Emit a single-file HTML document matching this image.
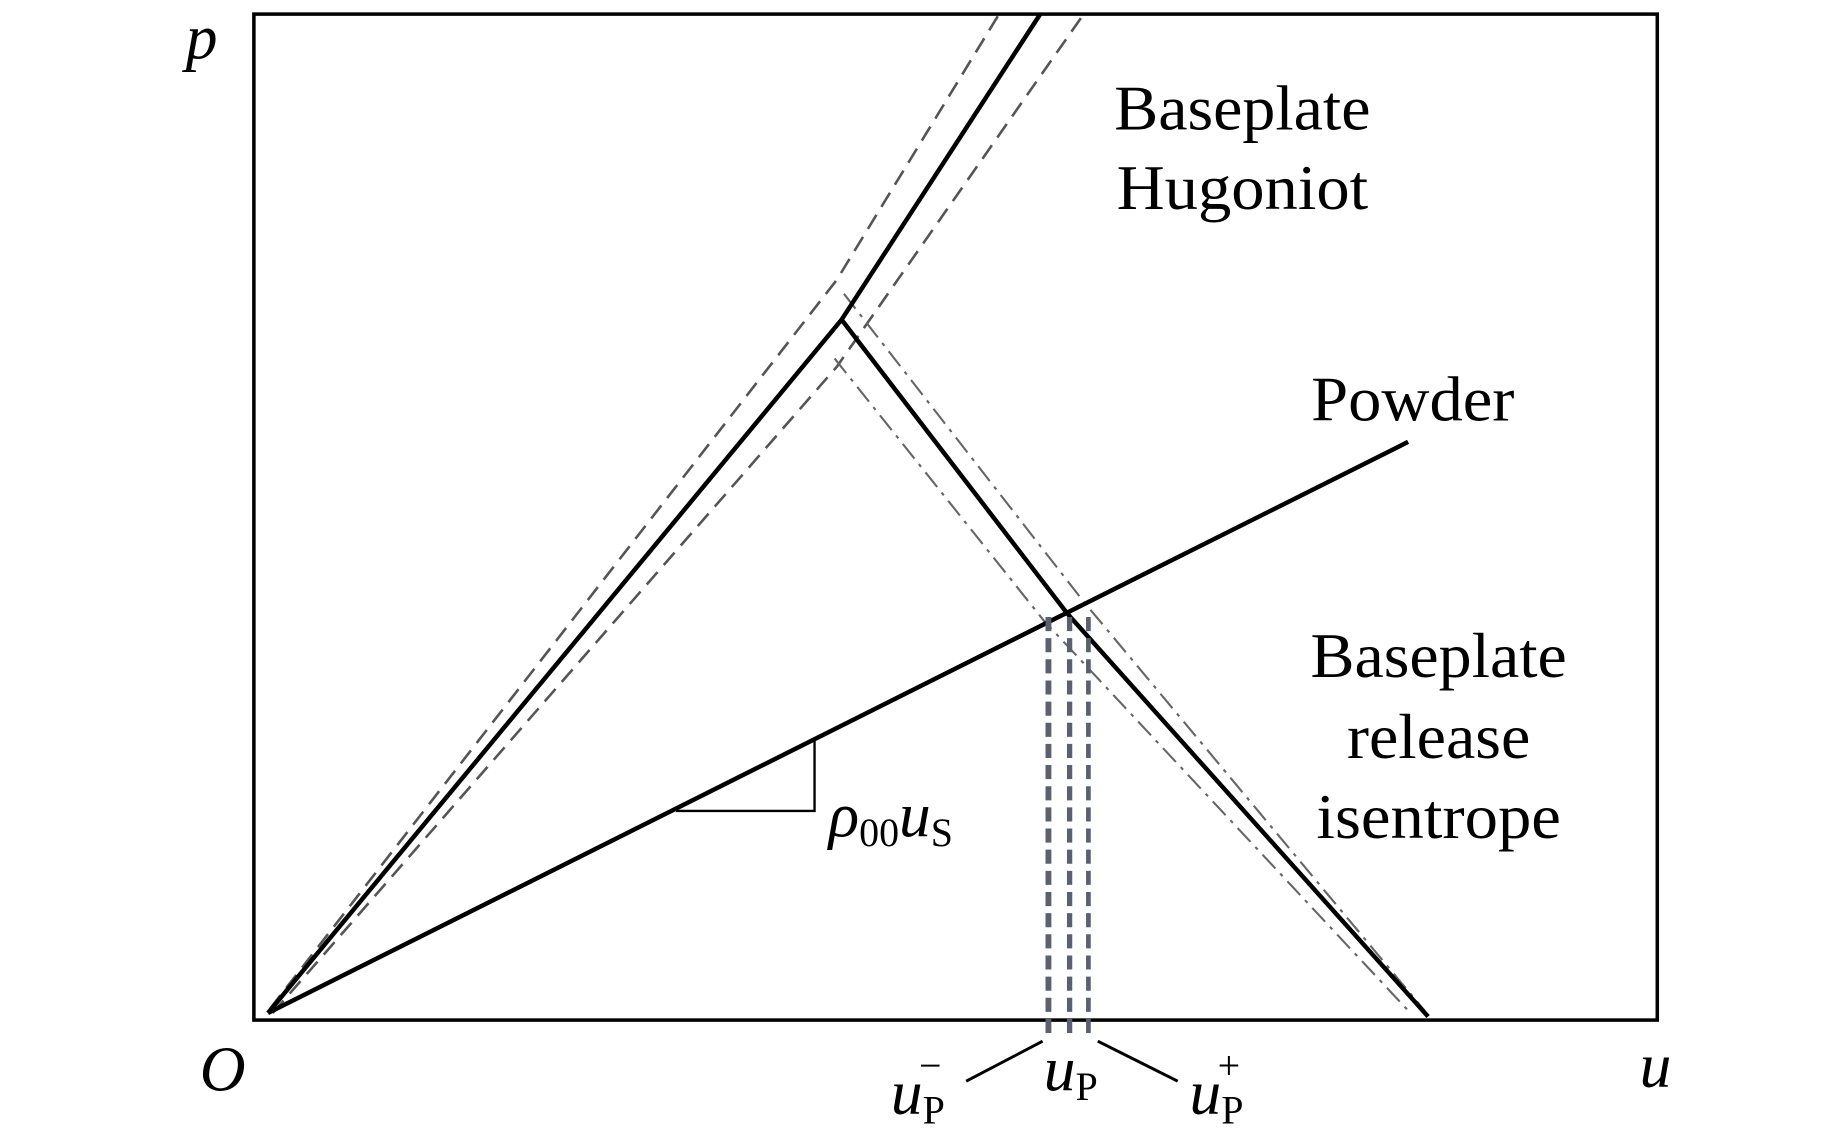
<!DOCTYPE html>
<html><head><style>html,body{margin:0;padding:0;background:#fff}svg{display:block}</style></head>
<body>
<svg width="1843" height="1147" viewBox="0 0 1568 976" preserveAspectRatio="none" xmlns="http://www.w3.org/2000/svg" font-family="Liberation Serif, serif">
<rect x="216" y="12" width="1194" height="856" fill="none" stroke="#000" stroke-width="3"/>
<g stroke="#555" stroke-width="2.2" stroke-dasharray="14,8" fill="none">
<polyline points="230,858 712,238 850,12"/>
<polyline points="232,862 712,312 922,12"/>
</g>
<g stroke="#666" stroke-width="1.8" stroke-dasharray="16,6,3,6" fill="none">
<polyline points="718,250 922,512 1212,860"/>
<polyline points="710,305 888,528 1200,862"/>
</g>
<g stroke="#000" stroke-width="3.8" fill="none">
<polyline points="228,862 716,272 885,12"/>
<polyline points="716,272 908,522 1215,865"/>
<line x1="228" y1="862" x2="1198" y2="376"/>
</g>
<polyline points="575,690 693,690 693,628" fill="none" stroke="#000" stroke-width="2"/>
<g stroke="#5a6070" stroke-dasharray="12,6" fill="none">
<line x1="892" y1="525" x2="892" y2="885" stroke-width="5"/>
<line x1="910" y1="525" x2="910" y2="885" stroke-width="4.5"/>
<line x1="926" y1="525" x2="926" y2="885" stroke-width="4"/>
</g>
<g stroke="#000" stroke-width="2.5">
<line x1="887" y1="886" x2="822" y2="920"/>
<line x1="934" y1="886" x2="1002" y2="920"/>
</g>
<g font-size="54" fill="#000">
<text x="158" y="50" font-style="italic">p</text>
<text x="170" y="928" font-style="italic">O</text>
<text x="1395" y="925" font-style="italic">u</text>
<text x="1057" y="110" text-anchor="middle" textLength="218" lengthAdjust="spacingAndGlyphs">Baseplate</text>
<text x="1057" y="178" text-anchor="middle" textLength="214" lengthAdjust="spacingAndGlyphs">Hugoniot</text>
<text x="1202" y="358" text-anchor="middle" textLength="173" lengthAdjust="spacingAndGlyphs">Powder</text>
<text x="1224" y="576" text-anchor="middle" textLength="218" lengthAdjust="spacingAndGlyphs">Baseplate</text>
<text x="1224" y="645" text-anchor="middle" textLength="156" lengthAdjust="spacingAndGlyphs">release</text>
<text x="1224" y="713" text-anchor="middle" textLength="208" lengthAdjust="spacingAndGlyphs">isentrope</text>
<text x="705" y="712" font-style="italic">ρ<tspan font-size="34" font-style="normal" dy="8">00</tspan><tspan dy="-8">u</tspan><tspan font-size="34" font-style="normal" dy="8">S</tspan></text>
<text x="758" y="948" font-style="italic">u<tspan font-size="34" font-style="normal" dy="8">P</tspan><tspan font-size="34" font-style="normal" dx="-22" dy="-38">−</tspan></text>
<text x="888" y="928" font-style="italic">u<tspan font-size="34" font-style="normal" dy="8">P</tspan></text>
<text x="1012" y="948" font-style="italic">u<tspan font-size="34" font-style="normal" dy="8">P</tspan><tspan font-size="34" font-style="normal" dx="-22" dy="-38">+</tspan></text>
</g>
</svg>
</body></html>
